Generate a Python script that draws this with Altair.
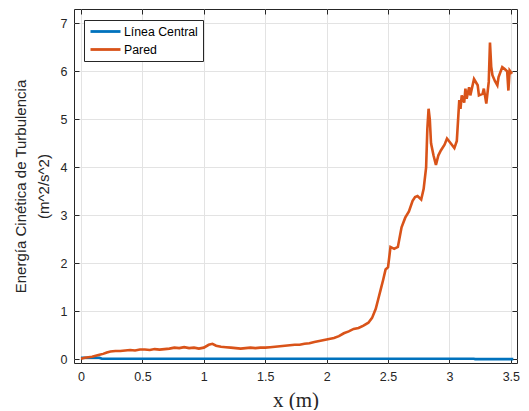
import altair as alt
import pandas as pd

# Pared (wall) series
pared_x = [0.00, 0.03, 0.06, 0.09, 0.12, 0.15, 0.18, 0.21, 0.24, 0.28, 0.32, 0.36, 0.40, 0.44,
           0.48, 0.52, 0.56, 0.60, 0.64, 0.68, 0.72, 0.76, 0.80, 0.84, 0.88, 0.92, 0.96, 1.00,
           1.04, 1.07, 1.10, 1.14, 1.18, 1.22, 1.26, 1.30, 1.34, 1.38, 1.42, 1.46, 1.50, 1.54,
           1.58, 1.62, 1.66, 1.70, 1.74, 1.78, 1.82, 1.86, 1.90, 1.94, 1.98, 2.02, 2.06, 2.10,
           2.14, 2.18, 2.22, 2.26, 2.30, 2.34, 2.37, 2.40, 2.42, 2.44, 2.46, 2.48, 2.50, 2.52,
           2.55, 2.58, 2.61, 2.64, 2.67, 2.70, 2.72, 2.74, 2.77, 2.79, 2.81, 2.82, 2.83, 2.84,
           2.85, 2.87, 2.89, 2.91, 2.93, 2.96, 2.98, 3.01, 3.04, 3.06, 3.08, 3.09, 3.10, 3.12,
           3.13, 3.14, 3.16, 3.17, 3.20, 3.23, 3.24, 3.27, 3.28, 3.30, 3.32, 3.33, 3.34, 3.35,
           3.37, 3.39, 3.40, 3.43, 3.45, 3.47, 3.48, 3.49, 3.51]
pared_y = [0.01, 0.03, 0.04, 0.05, 0.07, 0.09, 0.11, 0.14, 0.16, 0.17, 0.17, 0.18, 0.19, 0.18,
           0.20, 0.20, 0.19, 0.21, 0.20, 0.21, 0.22, 0.24, 0.23, 0.25, 0.23, 0.24, 0.22, 0.24,
           0.30, 0.32, 0.28, 0.26, 0.25, 0.24, 0.23, 0.22, 0.23, 0.24, 0.23, 0.24, 0.24, 0.25,
           0.26, 0.27, 0.28, 0.29, 0.30, 0.30, 0.32, 0.33, 0.36, 0.38, 0.40, 0.42, 0.44, 0.48,
           0.54, 0.58, 0.63, 0.65, 0.70, 0.76, 0.86, 1.05, 1.25, 1.45, 1.65, 1.87, 1.92, 2.34,
           2.30, 2.34, 2.75, 2.95, 3.08, 3.30, 3.38, 3.40, 3.33, 3.55, 4.00, 4.80, 5.22, 5.00,
           4.50, 4.25, 4.05, 4.25, 4.35, 4.47, 4.60, 4.50, 4.40, 4.55, 5.40, 5.22, 5.50, 5.35,
           5.64, 5.43, 5.67, 5.50, 5.84, 5.71, 5.50, 5.53, 5.64, 5.33, 5.78, 6.60, 6.10, 5.92,
           5.80, 5.71, 5.88, 6.09, 6.05, 6.00, 5.60, 6.02, 5.95]

# Línea Central series
central_x = [0.00, 0.05, 0.10, 0.15, 0.17, 0.50, 1.00, 1.50, 2.00, 2.50, 3.00, 3.20, 3.21, 3.52]
central_y = [0.03, 0.03, 0.03, 0.03, 0.01, 0.01, 0.01, 0.01, 0.01, 0.01, 0.01, 0.01, 0.00, 0.00]

series_names = ["Línea Central", "Pared"]
series_colors = ["#0072BD", "#D95319"]

x_ticks = [0, 0.5, 1, 1.5, 2, 2.5, 3, 3.5]
y_ticks = [0, 1, 2, 3, 4, 5, 6, 7]

df = pd.concat([
    pd.DataFrame({"x": central_x, "y": central_y, "serie": series_names[0], "o": range(len(central_x))}),
    pd.DataFrame({"x": pared_x, "y": pared_y, "serie": series_names[1], "o": range(len(pared_x))}),
])

AX = "#262626"
xscale = alt.Scale(domain=[-0.057, 3.55], nice=False, zero=False)
yscale = alt.Scale(domain=[-0.08, 7.3], nice=False, zero=False)

lines = alt.Chart(df).mark_line(strokeWidth=2.6, clip=True).encode(
    x=alt.X("x:Q", scale=xscale,
            axis=alt.Axis(values=x_ticks, format=".1~f", title="x (m)", offset=-5, tickSize=5,
                          labelPadding=7, titleFont="Liberation Serif", titleFontSize=21,
                          titleFontWeight="normal", titleBaseline="alphabetic", titleY=48)),
    y=alt.Y("y:Q", scale=yscale,
            axis=alt.Axis(values=y_ticks, format="d",
                          title=["Energía Cinética de Turbulencia", "(m^2/s^2)"],
                          offset=-5, tickSize=5, labelPadding=7, titlePadding=9,
                          titleFontSize=15, titleLineHeight=23, titleFontWeight="normal")),
    color=alt.Color("serie:N", scale=alt.Scale(domain=series_names, range=series_colors),
                    legend=alt.Legend(title=None, orient="none", legendX=10, legendY=11,
                                      symbolType="M-1,0H5", symbolSize=100, symbolStrokeWidth=2.8,
                                      labelFontSize=12.3, labelOffset=22, labelColor="#000000",
                                      strokeColor=AX, fillColor="#ffffff", padding=5,
                                      rowPadding=5, cornerRadius=0)),
    order="o:Q",
)

frame_axes = alt.Chart(df).mark_line(opacity=0).encode(
    x=alt.X("x:Q", scale=xscale,
            axis=alt.Axis(orient="top", values=x_ticks, labels=False, title=None, grid=False,
                          offset=-5, tickSize=5, domain=False)),
    y=alt.Y("y:Q", scale=yscale,
            axis=alt.Axis(orient="right", values=y_ticks, labels=False, title=None, grid=False,
                          offset=-5, tickSize=5, domain=False)),
    detail="serie:N",
)

chart = alt.layer(lines, frame_axes).resolve_axis(x="independent", y="independent").properties(
    width=443, height=354,
    autosize=alt.AutoSizeParams(type="none"),
    padding={"left": 66, "top": 1, "right": 4, "bottom": 47},
).configure_view(
    stroke=AX, strokeWidth=1
).configure_axis(
    domain=False, grid=True, gridColor="#e3e3e3", gridWidth=1,
    tickColor=AX, tickWidth=1,
    labelFont="Liberation Sans", labelFontSize=12.5, labelColor=AX,
    titleFont="Liberation Sans", titleColor=AX,
).configure_legend(
    labelFont="Liberation Sans"
)

chart.save("out.html", embed_options={"renderer": "svg", "actions": False})
